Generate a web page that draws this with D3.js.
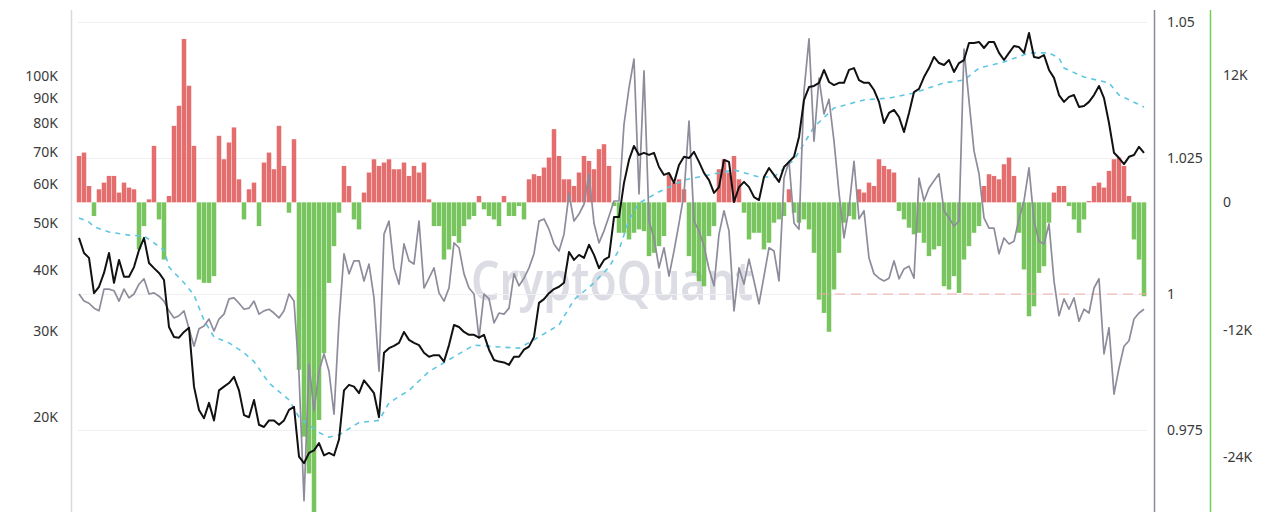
<!DOCTYPE html>
<html><head><meta charset="utf-8">
<script src="https://cdn.jsdelivr.net/npm/d3@7"></script>
<style>html,body{margin:0;padding:0;background:#fff;} svg{display:block;font-family:"Noto Sans","Open Sans",sans-serif;}</style>
</head><body><svg id="chart" width="1280" height="512"></svg>
<script>
// ---- data (weekly) ----
const startDate = new Date(2022, 0, 10);
// BTC price, thousands USD
const price = [
46.6,43.4,42.4,35.9,37.0,39.5,43.4,37.7,42.0,38.8,38.8,40.6,44.0,46.6,41.4,40.4,39.5,38.2,30.6,29.2,29.1,29.9,30.5,23.1,20.7,19.9,21.4,19.7,22.7,23.1,23.5,24.2,22.7,20.2,20.0,21.7,
19.3,19.1,19.7,19.7,19.3,19.7,20.7,21.0,16.6,16.1,16.9,17.1,17.7,16.7,16.9,16.7,18.0,22.7,23.3,23.1,22.4,23.8,23.1,22.4,20.0,27.1,27.7,28.0,28.4,29.9,28.8,28.4,28.1,27.1,26.6,
26.8,26.8,26.0,28.1,30.9,30.6,29.9,29.5,29.5,29.1,29.5,27.5,26.2,26.0,25.9,25.6,26.6,26.6,27.5,27.9,29.2,34.3,34.9,35.9,36.6,37.0,37.7,43.6,42.0,43.0,42.4,45.1,43.0,40.4,42.0,
42.6,51.4,51.4,60.4,67.3,71.9,68.9,69.6,68.9,69.6,65.1,62.7,63.3,60.4,65.7,68.3,67.9,69.9,66.7,63.3,61.2,57.6,59.2,67.3,66.7,55.2,59.2,60.7,59.2,56.5,55.7,62.1,64.8,62.7,60.7,
65.1,66.7,68.3,75.0,89.3,94.9,95.4,96.8,102.9,97.2,95.8,96.8,96.8,102.9,103.8,98.1,96.8,96.8,93.6,88.5,80.1,84.0,85.2,82.4,76.8,84.0,92.7,94.1,99.5,103.8,109.4,106.3,105.3,107.8,101.9,
106.3,107.8,116.8,116.8,117.4,114.1,117.4,117.4,111.5,107.8,111.5,115.2,114.6,111.5,122.5,109.4,108.9,110.4,102.9,99.1,91.4,88.5,90.6,91.4,86.4,86.8,88.5,91.4,95.4,90.1,80.1,69.6,67.9,66.0,68.3,68.9,71.6,69.6
];
// ratio (middle axis)
const ratio = [
1.0000,0.9987,0.9983,0.9974,0.9969,1.0009,1.0009,1.0006,0.9987,1.0009,0.9993,1.0000,1.0018,1.0028,1.0000,1.0002,0.9996,0.9987,0.9969,0.9956,0.9960,0.9969,0.9936,0.9904,0.9936,0.9941,0.9954,0.9932,0.9954,0.9963,0.9991,0.9993,0.9983,0.9972,0.9974,0.9987,
0.9963,0.9969,0.9972,0.9965,0.9956,0.9969,1.0000,0.9987,0.9853,0.9620,0.9871,0.9785,0.9858,0.9890,0.9858,0.9779,0.9950,1.0074,1.0037,1.0061,1.0061,1.0024,1.0055,0.9993,0.9858,1.0110,1.0134,1.0048,1.0018,1.0092,1.0061,1.0055,1.0134,1.0011,1.0029,
1.0048,1.0002,0.9987,1.0011,1.0094,1.0085,1.0037,1.0011,1.0000,0.9919,1.0000,0.9991,0.9947,0.9965,0.9963,0.9974,1.0037,1.0015,1.0029,1.0048,1.0074,1.0134,1.0138,1.0119,1.0092,1.0079,1.0110,1.0184,1.0134,1.0147,1.0165,1.0221,1.0130,1.0094,1.0116,
1.0143,1.0171,1.0171,1.0312,1.0379,1.0432,1.0184,1.0410,1.0134,1.0103,1.0048,1.0085,1.0033,1.0079,1.0130,1.0184,1.0318,1.0134,1.0116,1.0088,1.0046,1.0015,1.0110,1.0153,1.0116,0.9969,1.0048,1.0018,1.0064,1.0024,0.9982,1.0033,1.0085,1.0079,1.0024,
1.0213,1.0244,1.0130,1.0119,1.0373,1.0469,1.0281,1.0397,1.0331,1.0358,1.0281,1.0186,1.0103,1.0158,1.0244,1.0138,1.0153,1.0066,1.0037,1.0029,1.0024,1.0029,1.0061,1.0028,1.0046,1.0051,1.0029,1.0213,1.0171,1.0195,1.0208,1.0221,1.0153,1.0140,1.0125,
1.0134,1.0450,1.0355,1.0263,1.0221,1.0140,1.0121,1.0121,1.0074,1.0103,1.0092,1.0097,1.0138,1.0171,1.0232,1.0134,1.0097,1.0092,1.0129,1.0024,0.9960,0.9991,0.9972,0.9993,0.9950,0.9972,0.9965,1.0011,1.0028,0.9890,0.9938,0.9816,0.9864,0.9904,0.9914,0.9954,0.9965,0.9972
];
// flow bars, thousands
const flow = [
4.37,4.69,1.54,-1.29,1.23,1.86,2.49,2.49,0.92,1.86,1.39,1.23,-4.44,-2.24,0.28,5.32,-1.61,-5.39,0.60,7.21,9.10,15.40,10.99,5.32,-7.28,-7.59,-7.59,-6.96,6.27,4.06,5.64,7.06,2.17,-1.61,1.23,1.86,
-2.24,3.75,4.69,3.12,7.21,3.43,-0.98,5.95,-15.78,-22.08,-25.55,-29.5,-20.51,-14.21,-7.59,-4.13,-0.98,3.43,1.54,-1.61,-2.55,0.92,2.81,4.06,3.43,3.75,4.06,3.12,3.12,3.75,2.49,3.43,2.81,3.75,0.28,
-2.24,-2.24,-5.39,-4.44,-3.18,-3.81,-2.24,-1.61,-1.29,0.60,-0.66,-1.29,-1.61,-2.24,0.60,-1.29,-1.29,-0.35,-1.61,2.17,2.65,2.49,3.28,4.22,6.90,4.37,2.17,2.17,1.54,2.81,4.37,3.90,3.12,5.01,5.48,
3.43,-0.35,-2.87,-2.87,-3.50,-2.87,-2.55,-2.71,-5.07,-4.76,-4.13,-3.18,2.65,1.86,2.17,1.23,-5.07,-6.65,-7.43,-7.91,-3.18,-2.24,3.12,4.06,2.81,4.37,2.17,-0.98,-3.50,-2.87,-2.87,-4.44,-3.81,-1.92,-1.61,
-1.29,1.23,-0.98,-1.92,-1.61,-2.55,-4.76,-9.17,-10.42,-12.2,-8.22,-4.76,-1.92,-1.29,-1.61,1.23,0.92,1.86,1.54,4.06,3.43,3.12,2.81,-0.82,-1.61,-2.39,-3.02,-2.87,-3.81,-5.07,-4.44,-4.13,-7.91,-8.22,-6.96,
-8.54,-5.39,-4.13,-2.87,-2.24,1.54,2.65,2.49,2.17,3.59,4.22,2.49,-2.87,-6.33,-10.74,-9.80,-6.65,-6.02,-1.92,0.92,1.54,1.54,-0.35,-1.61,-2.87,-1.61,0.12,1.54,1.86,1.39,2.96,4.06,4.22,3.43,0.60,-3.50,-5.39,-8.85
];
// moving average of price (week index, thousands USD)
const maWeek = [0,2,3,6,10,13,15,17,18,21,23,25,27,30,33,35,38,42,44,48,50,52,56,60,62,66,70,75,79,83,88,91,96,99,103,106,108,110,112,116,121,126,131,136,139,143,147,151,157,162,167,173,177,180,185,190,194,196,197,201,206,208,213];
const maValue = [51.2,50.2,49.1,47.9,47.2,47.0,45.5,44.0,40.6,37.7,35.6,31.6,29.2,28.4,27.1,26.0,23.5,21.7,20.0,18.6,18.2,18.4,19.5,19.7,21.4,22.7,24.8,26.6,28.1,27.9,27.7,28.8,30.9,34.8,37.7,40.6,44.0,50.7,54.9,57.9,61.2,62.7,64.2,62.1,62.1,67.3,78.6,86.0,89.3,90.1,92.3,96.8,98.1,103.8,106.8,111.5,111.5,108.9,103.8,99.5,96.8,91.4,86.4];

const priceTicks = [20,30,40,50,60,70,80,90,100];
const ratioTicks = [0.975,1,1.025,1.05];
const flowTicks = [-24,-12,0,12];
const refValue = 1;
const refStartWeek = 148;
const watermark = "CryptoQuant";

// ---- chart ----
(function draw() {
const svg = d3.select("#chart");
const dates = price.map((_, i) => d3.timeWeek.offset(startDate, i));
const x = d3.scaleTime().domain([dates[0], dates[dates.length - 1]]).range([79, 1144]);
const step = x(dates[1]) - x(dates[0]);
const yPrice = d3.scaleLog().domain([12.79, 136.5]).range([512, 10]);
const yRatio = d3.scaleLinear().domain([0.975, 1.05]).range([430, 22]);
const yFlow = d3.scaleLinear().domain([-24, 12]).range([457, 75]);
const pLeft = 78, pRight = 1147, pTop = 10, pBottom = 512;

// watermark
svg.append("text").attr("x", 612).attr("y", 300).attr("text-anchor", "middle")
  .attr("font-size", 54).attr("font-weight", 600).attr("fill", "#dcdde4")
  .attr("textLength", 282).attr("lengthAdjust", "spacingAndGlyphs")
  .text(watermark);

// gridlines
svg.append("g").selectAll("line").data(ratioTicks).join("line")
  .attr("x1", pLeft).attr("x2", pRight)
  .attr("y1", d => Math.round(yRatio(d)) + 0.5).attr("y2", d => Math.round(yRatio(d)) + 0.5)
  .attr("stroke", "#f0f0f2").attr("stroke-width", 1);

// bars
svg.append("g").selectAll("rect").data(flow).join("rect")
  .attr("x", (d, i) => x(dates[i]) - step / 2 + 0.25)
  .attr("width", step - 0.5)
  .attr("y", d => Math.min(yFlow(d), yFlow(0)))
  .attr("height", d => Math.abs(yFlow(d) - yFlow(0)))
  .attr("fill", d => d >= 0 ? "#e05656" : "#62bb45")
  .attr("fill-opacity", 0.86);

// reference dashed line at ratio 1
svg.append("line")
  .attr("x1", x(dates[refStartWeek])).attr("x2", pRight)
  .attr("y1", yRatio(refValue)).attr("y2", yRatio(refValue))
  .attr("stroke", "#f2a9a9").attr("stroke-width", 1).attr("stroke-dasharray", "10,6");

// moving average
const maLine = d3.line().x((d, i) => x(dates[maWeek[i]])).y(d => yPrice(d));
svg.append("path").attr("d", maLine(maValue)).attr("fill", "none")
  .attr("stroke", "#5ec6e2").attr("stroke-width", 1.6).attr("stroke-dasharray", "5,5");

// ratio line
const rLine = d3.line().x((d, i) => x(dates[i])).y(d => yRatio(d));
svg.append("path").attr("d", rLine(ratio)).attr("fill", "none")
  .attr("stroke", "#8e8c9b").attr("stroke-width", 1.7).attr("stroke-linejoin", "round");

// price line
const pLine = d3.line().x((d, i) => x(dates[i])).y(d => yPrice(d));
svg.append("path").attr("d", pLine(price)).attr("fill", "none")
  .attr("stroke", "#111").attr("stroke-width", 2).attr("stroke-linejoin", "round");

// axes
const axisFont = g => g.call(s => s.select(".domain").remove())
  .call(s => s.selectAll("text").attr("font-size", 14).attr("fill", "#3a3a3a")
    .attr("font-family", '"Noto Sans","Open Sans",sans-serif'));

svg.append("g").attr("transform", "translate(71,0)")
  .call(d3.axisLeft(yPrice).tickValues(priceTicks).tickSize(0).tickPadding(13).tickFormat(d => d + "K"))
  .call(axisFont);
svg.append("g").attr("transform", "translate(1154,0)")
  .call(d3.axisRight(yRatio).tickValues(ratioTicks).tickSize(0).tickPadding(13).tickFormat(d => String(d)))
  .call(axisFont);
svg.append("g").attr("transform", "translate(1210,0)")
  .call(d3.axisRight(yFlow).tickValues(flowTicks).tickSize(0).tickPadding(13).tickFormat(d => d === 0 ? "0" : d + "K"))
  .call(axisFont);

// axis lines
svg.append("line").attr("x1", 71.5).attr("x2", 71.5).attr("y1", pTop).attr("y2", pBottom)
  .attr("stroke", "#d8dae2").attr("stroke-width", 1.5);
svg.append("line").attr("x1", 1154.5).attr("x2", 1154.5).attr("y1", pTop).attr("y2", pBottom)
  .attr("stroke", "#8c8b98").attr("stroke-width", 1.5);
svg.append("line").attr("x1", 1210.5).attr("x2", 1210.5).attr("y1", pTop).attr("y2", pBottom)
  .attr("stroke", "#72cf5a").attr("stroke-width", 1.5);
})();
</script>
</body></html>
